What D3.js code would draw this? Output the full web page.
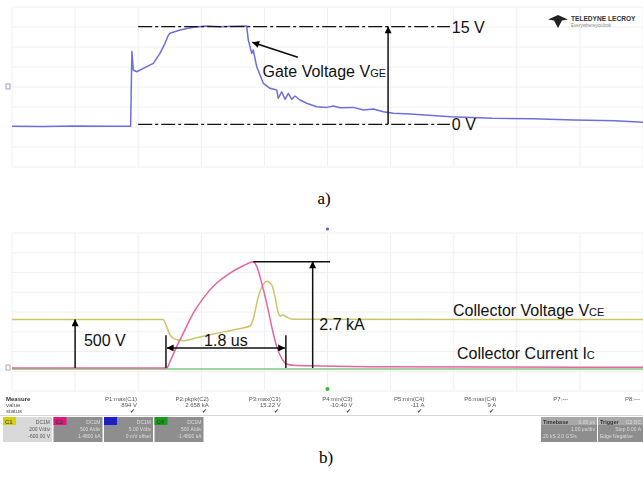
<!DOCTYPE html>
<html><head><meta charset="utf-8">
<script src="https://cdn.jsdelivr.net/npm/d3@7"></script>
<style>
body{margin:0;background:#fff;}
svg{display:block;font-family:"Liberation Sans",Arial,sans-serif;}
</style></head><body>
<svg id="c" width="643" height="486"></svg>
<script>
// ---------- DATA ----------
// time grid (µs, 1 µs/div, 10 divisions)
const timeDivs = [-5,-4,-3,-2,-1,0,1,2,3,4,5];
const vertDivs = [-4,-3,-2,-1,0,1,2,3,4];

// a) gate voltage VGE (V)
const gateTime = [-5,-4.5,-4,-3.5,-3.12,-3.10,-3.078,-3.024,-2.919,-2.761,-2.655,-2.575,-2.523,-2.496,-2.338,-2.127,-1.914,-1.704,-1.493,-1.281,-1.255,-1.201,-1.176,-1.122,-1.017,-0.911,-0.805,-0.780,-0.726,-0.674,-0.621,-0.567,-0.515,-0.436,-0.330,-0.171,-0.013,0.092,0.198,0.409,0.567,0.726,0.884,1.043,1.307,1.957,2.607,3.257,3.906,4.556,5.0];
const gateVolt = [-0.3,-0.35,-0.25,-0.3,-0.3,11.2,8.34,8.08,8.6,9.37,10.9,12.45,13.7,14.0,14.5,14.9,15.1,15.0,15.06,15.1,12.95,10.9,11.4,8.85,6.3,5.53,5.27,4.0,5.0,3.84,4.76,3.84,4.35,3.73,3.23,2.7,2.6,2.8,2.55,2.6,2.2,2.35,1.94,1.69,1.58,1.17,0.92,0.86,0.66,0.55,0.3];
const gateLevels = [0, 15];
const gateLevelLabels = ["0 V", "15 V"];

// b) collector voltage VCE (V)
const vceTime = [-5,-2.607,-2.548,-2.496,-2.417,-2.290,-2.073,-1.815,-1.545,-1.339,-1.228,-1.181,-1.101,-1.022,-0.959,-0.884,-0.832,-0.784,-0.753,-0.705,-0.647,-0.547,5];
const vceVolt = [500,500,426,340,299,281,312,350,385,412,433,495,722,856,894,856,735,580,536,546,526,502,500];
// b) collector current IC (A)
const icTime = [-5,-2.548,-2.496,-2.390,-2.285,-2.127,-1.968,-1.756,-1.545,-1.334,-1.176,-1.122,-1.043,-0.964,-0.884,-0.805,-0.726,-0.647,-0.542,-0.119,0.674,2.734,5];
const icAmp = [0,0,160,543,884,1393,1775,2157,2412,2598,2700,2580,2157,1648,1052,543,247,102,69,51,33,25,20];
// channel 4 (A)
const c4Time = [-5,-2.5,0,2.5,5];
const c4Amp = [0,3,-3,2,0];

// annotation values
const vceAnnot = 500;          // V
const icAnnot = 2700;          // A
const spanStart = -2.56, spanEnd = -0.66; // µs (1.8 us)

// measurement table
const measureNames = ["P1:max(C1)","P2:pkpk(C2)","P3:max(C3)","P4:min(C3)","P5:min(C4)","P6:max(C4)","P7:---","P8:---"];
const measureValues = ["894 V","2.658 kA","15.22 V","-10.40 V","-11 A","9 A","",""];
const measureStatus = ["✔","✔","✔","✔","✔","✔","",""];
const channelNames = ["C1","C2","C3","C4"];
const channelColors = ["#d6cf10","#e0147c","#1a1ae0","#1a9a1a"];
const channelLine1 = ["200 V/div","500 A/div","5.00 V/div","500 A/div"];
const channelLine2 = ["-600.00 V","1.4800 kA","0 mV offset","-1.4800 kA"];

// ---------- LAYOUT ----------
const svg = d3.select("#c");
const W = 643;
const x = d3.scaleLinear().domain([-5,5]).range([12,643]);
const gridTop = d3.scaleLinear().domain([-4,4]).range([167,7]);
const gridBot = d3.scaleLinear().domain([-4,4]).range([391,233]);
const yG = d3.scaleLinear().domain([0,15]).range([124.3,26.7]);
const yV = d3.scaleLinear().domain([0,500]).range([368,319.5]);
const yI = d3.scaleLinear().domain([0,2700]).range([368,261.7]);
const yC4 = d3.scaleLinear().domain([0,500]).range([369,349.25]);

const defs = svg.append("defs");
defs.append("marker").attr("id","ah").attr("viewBox","0 0 10 10")
  .attr("refX",9.5).attr("refY",5).attr("markerWidth",9).attr("markerHeight",7)
  .attr("markerUnits","userSpaceOnUse").attr("orient","auto-start-reverse")
  .append("path").attr("d","M0,0L10,5L0,10z").attr("fill","#000");
defs.append("filter").attr("id","blur").append("feGaussianBlur").attr("stdDeviation",0.35);

function grid(gy){
  const g = svg.append("g").attr("stroke","#f0f0f0").attr("stroke-width",1);
  g.selectAll("line.v").data(timeDivs).join("line")
    .attr("x1",d=>x(d)).attr("x2",d=>x(d)).attr("y1",gy(4)).attr("y2",gy(-4));
  g.selectAll("line.h").data(vertDivs).join("line")
    .attr("x1",x(-5)).attr("x2",x(5)).attr("y1",d=>gy(d)).attr("y2",d=>gy(d));
}
grid(gridTop);
grid(gridBot);

function trace(ts, vs, ys, color, curve){
  const pts = ts.map((t,i)=>[t,vs[i]]);
  svg.append("path").datum(pts)
    .attr("d", d3.line().x(d=>x(d[0])).y(d=>ys(d[1])).curve(curve||d3.curveLinear))
    .attr("fill","none").attr("stroke",color).attr("stroke-width",1.5)
    .attr("stroke-linejoin","round").attr("filter","url(#blur)");
}

// ---------- a) ----------
trace(gateTime, gateVolt, yG, "#6e6ee0");
svg.append("rect").attr("x",6).attr("y",gridTop(0)-3).attr("width",4).attr("height",5)
  .attr("fill","none").attr("stroke","#9aa0d0").attr("stroke-width",1);

svg.selectAll("line.lvl").data(gateLevels).join("line")
  .attr("x1",x(-3.0)).attr("x2",x(1.94)).attr("y1",d=>yG(d)).attr("y2",d=>yG(d))
  .attr("stroke","#111").attr("stroke-width",1.2).attr("stroke-dasharray","14,3,3,3");
svg.selectAll("text.lvl").data(gateLevels).join("text")
  .attr("x",x(1.97)).attr("y",d=>yG(d)+6).attr("font-size",16).attr("fill","#111")
  .text((d,i)=>gateLevelLabels[i]);
svg.append("line").attr("x1",x(0.96)).attr("x2",x(0.96)).attr("y1",yG(0)).attr("y2",yG(15))
  .attr("stroke","#111").attr("stroke-width",1.5).attr("marker-end","url(#ah)");
svg.append("line").attr("x1",x(-0.47)).attr("y1",yG(10.3)).attr("x2",x(-1.19)).attr("y2",yG(12.6))
  .attr("stroke","#111").attr("stroke-width",1.5).attr("marker-end","url(#ah)");
const gl = svg.append("text").attr("x",x(-1.03)).attr("y",yG(7.2)).attr("font-size",16).attr("fill","#111");
gl.append("tspan").text("Gate Voltage V");
gl.append("tspan").attr("font-size",11).text("GE");

// logo
const lg = svg.append("g");
lg.append("path").attr("d","M548,19.5L558,15L568,19.5L562,20.5L558,28L554,20.5Z").attr("fill","#222");
lg.append("text").attr("x",571).attr("y",21).attr("font-size",6.6).attr("font-weight","bold").attr("fill","#333").text("TELEDYNE LECROY");
lg.append("text").attr("x",571).attr("y",27).attr("font-size",4.6).attr("fill","#888").text("Everywhereyoulook");

svg.append("text").attr("x",324).attr("y",204).attr("text-anchor","middle")
  .attr("font-family","'Liberation Serif','Times New Roman',serif").attr("font-size",17).text("a)");

// ---------- b) ----------
trace(c4Time, c4Amp, yC4, "#7ccc7c");
trace(vceTime, vceVolt, yV, "#cdc36a", d3.curveMonotoneX);
trace(icTime, icAmp, yI, "#e9649e", d3.curveMonotoneX);
svg.append("rect").attr("x",6).attr("y",yI(0)-3).attr("width",4).attr("height",5)
  .attr("fill","none").attr("stroke","#b0b0a0").attr("stroke-width",1);
svg.append("circle").attr("cx",x(0)).attr("cy",gridBot(4)-4).attr("r",1.6).attr("fill","#5a5ad0");
svg.append("circle").attr("cx",x(0)).attr("cy",gridBot(-4)-2).attr("r",2).attr("fill","#3cb43c");

svg.append("line").attr("x1",x(-4.0)).attr("x2",x(-4.0)).attr("y1",yV(0)).attr("y2",yV(vceAnnot))
  .attr("stroke","#111").attr("stroke-width",1.5).attr("marker-end","url(#ah)");
svg.append("text").attr("x",x(-3.86)).attr("y",yV(0)-22).attr("font-size",16).attr("fill","#111").text("500 V");

svg.selectAll("line.tk").data([spanStart, spanEnd]).join("line")
  .attr("x1",d=>x(d)).attr("x2",d=>x(d)).attr("y1",yI(0)).attr("y2",yI(830))
  .attr("stroke","#111").attr("stroke-width",1.5);
svg.append("line").attr("x1",x(spanStart)+1).attr("x2",x(spanEnd)-1).attr("y1",yI(510)).attr("y2",yI(510))
  .attr("stroke","#111").attr("stroke-width",1.5)
  .attr("marker-start","url(#ah)").attr("marker-end","url(#ah)");
svg.append("text").attr("x",x((spanStart+spanEnd)/2)).attr("y",yI(560)).attr("text-anchor","middle")
  .attr("font-size",16).attr("fill","#111").text("1.8 us");

svg.append("line").attr("x1",x(-0.235)).attr("x2",x(-0.235)).attr("y1",yI(0)).attr("y2",yI(icAnnot))
  .attr("stroke","#111").attr("stroke-width",1.5).attr("marker-end","url(#ah)");
svg.append("line").attr("x1",x(-1.176)).attr("x2",x(0.04)).attr("y1",yI(icAnnot)).attr("y2",yI(icAnnot))
  .attr("stroke","#111").attr("stroke-width",1.5);
svg.append("text").attr("x",x(-0.13)).attr("y",yI(960)).attr("font-size",16).attr("fill","#111").text("2.7 kA");

const cv = svg.append("text").attr("x",453).attr("y",yV(500)-4).attr("font-size",16).attr("fill","#111");
cv.append("tspan").text("Collector Voltage V");
cv.append("tspan").attr("font-size",11).text("CE");
const cc = svg.append("text").attr("x",457).attr("y",yI(230)).attr("font-size",16).attr("fill","#111");
cc.append("tspan").text("Collector Current I");
cc.append("tspan").attr("font-size",11).text("C");

// measurement table
const mt = svg.append("g").attr("fill","#555").attr("font-size",6).attr("filter","url(#blur)");
mt.append("text").attr("x",6).attr("y",401).attr("font-weight","bold").attr("fill","#333").text("Measure");
mt.append("text").attr("x",6).attr("y",407).text("value");
mt.append("text").attr("x",6).attr("y",412.5).text("status");
const colRight = d3.scalePoint().domain(measureNames).range([137,640]);
measureNames.forEach((n,i)=>{
  const cx = colRight(n);
  mt.append("text").attr("x",cx).attr("y",401).attr("text-anchor","end").text(n);
  mt.append("text").attr("x",cx).attr("y",407).attr("text-anchor","end").text(measureValues[i]);
  mt.append("text").attr("x",cx-2).attr("y",413).attr("text-anchor","end").attr("fill","#333").text(measureStatus[i]);
});
svg.append("line").attr("x1",0).attr("x2",W).attr("y1",415.5).attr("y2",415.5).attr("stroke","#d8d8d8");

// channel boxes
const cb = svg.append("g").attr("filter","url(#blur)");
channelNames.forEach((n,i)=>{
  const bx = 3 + i*50.5;
  cb.append("rect").attr("x",bx).attr("y",417).attr("width",49).attr("height",25)
    .attr("fill", i===0 ? "#d9d9d9" : "#8e8e8e");
  cb.append("rect").attr("x",bx).attr("y",417).attr("width",13).attr("height",8).attr("fill",channelColors[i]);
  cb.append("text").attr("x",bx+2).attr("y",423.5).attr("font-size",6).attr("fill","#333").text(n);
  const tc = i===0 ? "#555" : "#ddd";
  cb.append("text").attr("x",bx+47).attr("y",423.5).attr("font-size",5).attr("text-anchor","end").attr("fill",tc).text("DC1M");
  cb.append("text").attr("x",bx+47).attr("y",431).attr("font-size",5).attr("text-anchor","end").attr("fill",tc).text(channelLine1[i]);
  cb.append("text").attr("x",bx+47).attr("y",438).attr("font-size",5).attr("text-anchor","end").attr("fill",tc).text(channelLine2[i]);
});
[[541,"Timebase","0.00 µs","1.00 µs/div","20 kS  2.0 GS/s"],[598,"Trigger","C2 DC","Stop 0.00 A","Edge Negative"]].forEach(b=>{
  const w = b[0]===541 ? 56 : 45;
  cb.append("rect").attr("x",b[0]).attr("y",417).attr("width",w).attr("height",25).attr("fill","#8e8e8e");
  cb.append("rect").attr("x",b[0]).attr("y",417).attr("width",w).attr("height",8).attr("fill","#a8a8a8");
  cb.append("text").attr("x",b[0]+2).attr("y",423.5).attr("font-size",5.5).attr("font-weight","bold").attr("fill","#333").text(b[1]);
  cb.append("text").attr("x",b[0]+w-2).attr("y",423.5).attr("font-size",5).attr("text-anchor","end").attr("fill","#ddd").text(b[2]);
  cb.append("text").attr("x",b[0]+w-2).attr("y",431).attr("font-size",5).attr("text-anchor","end").attr("fill","#ddd").text(b[3]);
  cb.append("text").attr("x",b[0]+2).attr("y",438).attr("font-size",5).attr("fill","#ddd").text(b[4]);
});

svg.append("text").attr("x",326).attr("y",463).attr("text-anchor","middle")
  .attr("font-family","'Liberation Serif','Times New Roman',serif").attr("font-size",17).text("b)");
</script>
</body></html>
